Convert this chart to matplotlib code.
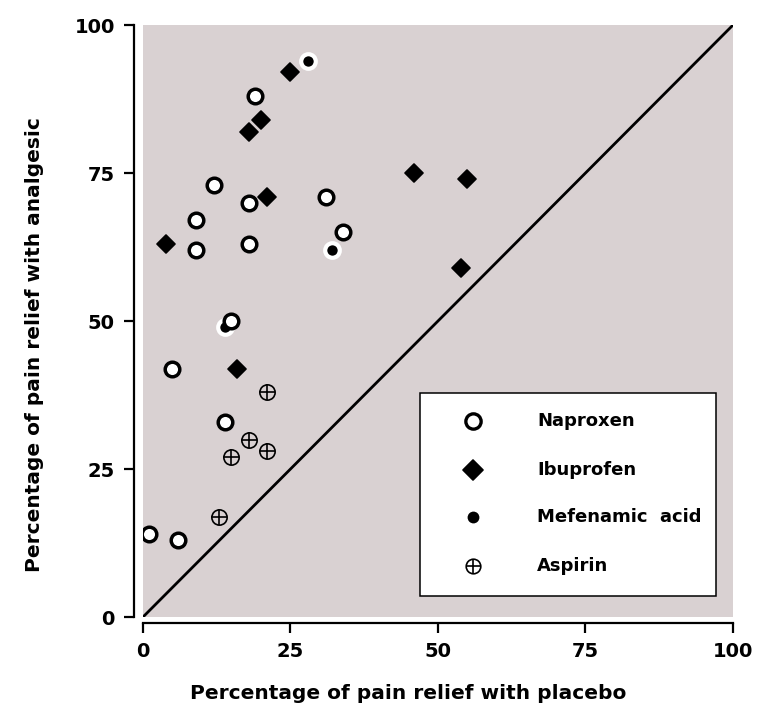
import matplotlib
matplotlib.use('Agg')
import matplotlib.pyplot as plt
from matplotlib.markers import MarkerStyle
from matplotlib.patches import Rectangle

plt.rcParams['font.family'] = ['DejaVu Sans']
plt.rcParams['font.weight'] = 'bold'

# values (placebo %, analgesic %)
naproxen_x = [19, 12, 18, 31, 9, 9, 18, 34, 15, 5, 14, 1, 6]
naproxen_y = [88, 73, 70, 71, 67, 62, 63, 65, 50, 42, 33, 14, 13]

ibuprofen_x = [25, 20, 18, 21, 4, 16, 46, 55, 54]
ibuprofen_y = [92, 84, 82, 71, 63, 42, 75, 74, 59]

mefenamic_x = [28, 32, 14]
mefenamic_y = [94, 62, 49]

aspirin_x = [21, 18, 21, 15, 13]
aspirin_y = [38, 30, 28, 27, 17]

ticks = [0, 25, 50, 75, 100]
legend_labels = ['Naproxen', 'Ibuprofen', 'Mefenamic  acid', 'Aspirin']

fig = plt.figure(figsize=(7.66, 7.05), dpi=100)
ax = fig.add_axes([0.1863, 0.1244, 0.7706, 0.8401])
ax.set_facecolor('#d9d1d2')
ax.set_xlim(0, 100)
ax.set_ylim(0, 100)

# line of equality
ax.plot([0, 100], [0, 100], color='black', lw=2, zorder=2)

diamond = MarkerStyle('D', joinstyle='round')
ax.plot(ibuprofen_x, ibuprofen_y, ls='none', marker=diamond, ms=9.5,
        mfc='black', mec='black', mew=1.2, zorder=3)
ax.plot(mefenamic_x, mefenamic_y, ls='none', marker='o', ms=10.5,
        mfc='black', mec='white', mew=3, zorder=4)
ax.plot(naproxen_x, naproxen_y, ls='none', marker='o', ms=10.5,
        mfc='white', mec='black', mew=2.5, zorder=5)
ax.plot(aspirin_x, aspirin_y, ls='none', marker='o', ms=11,
        mfc='none', mec='black', mew=1.2, zorder=5)
ax.plot(aspirin_x, aspirin_y, ls='none', marker='+', ms=11,
        mec='black', mew=1.2, zorder=5)

# axes styling
for side in ['top', 'right']:
    ax.spines[side].set_visible(False)
ax.spines['left'].set_position(('outward', 6.5))
ax.spines['bottom'].set_position(('outward', 4))
for side in ['left', 'bottom']:
    ax.spines[side].set_linewidth(1.6)
ax.set_xticks(ticks)
ax.set_yticks(ticks)
ax.tick_params(length=7.5, width=1.6, labelsize=14, pad=6)

# legend box drawn by hand
ax.add_patch(Rectangle((0.4698, 0.036), 0.5013, 0.3427, transform=ax.transAxes,
                       facecolor='white', edgecolor='black', lw=1.1, zorder=6))
row_y = [0.3319, 0.2487, 0.1698, 0.0866]
mx, tx = 0.5596, 0.6679
kw = dict(transform=ax.transAxes, ls='none', clip_on=False, zorder=7)
ax.plot([mx], [row_y[0]], marker='o', ms=11, mfc='white', mec='black', mew=2.4, **kw)
ax.plot([mx], [row_y[1]], marker=diamond, ms=10.5, mfc='black', mec='black', mew=1.2, **kw)
ax.plot([mx], [row_y[2]], marker='o', ms=8.5, mfc='black', mec='black', mew=0, **kw)
ax.plot([mx], [row_y[3]], marker='o', ms=10.5, mfc='none', mec='black', mew=1.2, **kw)
ax.plot([mx], [row_y[3]], marker='+', ms=10.5, mec='black', mew=1.2, **kw)
for lab, yy in zip(legend_labels, row_y):
    ax.text(tx, yy, lab, transform=ax.transAxes, va='center', ha='left',
            fontsize=13, zorder=7)

fig.text(0.5326, 0.0085, 'Percentage of pain relief with placebo',
         ha='center', va='baseline', fontsize=14.5)
fig.text(0.0444, 0.5113, 'Percentage of pain relief with analgesic',
         ha='center', va='center', rotation=90, fontsize=14.5)

fig.savefig('out.png', dpi=100)
